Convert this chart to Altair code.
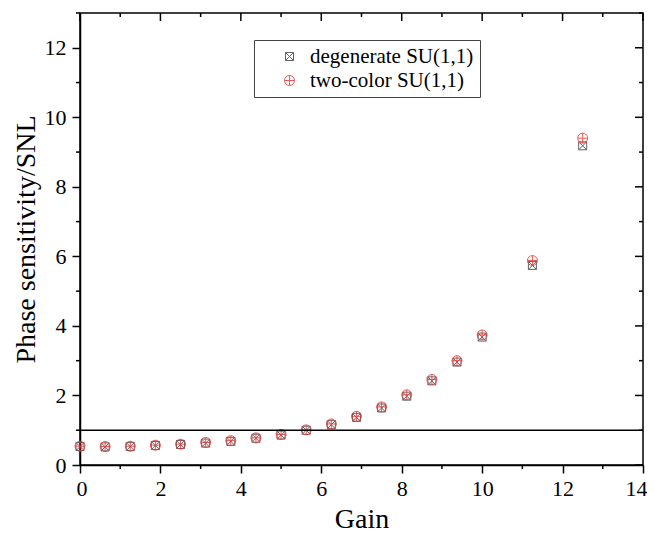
import altair as alt
import pandas as pd

# ---- data ----
gain = [0, 0.625, 1.25, 1.875, 2.5, 3.125, 3.75, 4.375, 5, 5.625, 6.25,
        6.875, 7.5, 8.125, 8.75, 9.375, 10, 11.25, 12.5]
degenerate = [0.53, 0.52, 0.53, 0.56, 0.59, 0.63, 0.68, 0.77, 0.86, 1.0, 1.16,
              1.37, 1.64, 1.98, 2.42, 2.96, 3.68, 5.74, 9.18]
two_color = [0.54, 0.53, 0.54, 0.57, 0.60, 0.65, 0.70, 0.78, 0.88, 1.01, 1.18,
             1.40, 1.67, 2.02, 2.46, 3.00, 3.74, 5.88, 9.40]
series_names = ["degenerate SU(1,1)", "two-color SU(1,1)"]
ref_level = [1]

x_major = [0, 2, 4, 6, 8, 10, 12, 14]
x_minor = [1, 3, 5, 7, 9, 11, 13]
y_major = [0, 2, 4, 6, 8, 10, 12]
y_minor = [1, 3, 5, 7, 9, 11, 13]

W, H = 563, 452
FONT = "Liberation Serif"

df = pd.concat([
    pd.DataFrame({"gain": gain, "val": degenerate, "series": series_names[0]}),
    pd.DataFrame({"gain": gain, "val": two_color, "series": series_names[1]}),
], ignore_index=True)

xs = alt.Scale(domain=[0, 14], nice=False, zero=False)
ys = alt.Scale(domain=[0, 13], nice=False, zero=False)

x_axis = alt.Axis(values=x_major, tickSize=8, tickWidth=1.5, domainWidth=1.5,
                  domainColor="black", tickColor="black", grid=False,
                  labelFont=FONT, labelFontSize=22, labelColor="black",
                  labelFlush=True, labelFlushOffset=4, labelPadding=5,
                  titleFont=FONT, titleFontSize=28,
                  titleFontWeight="normal", titleColor="black", titlePadding=6)
y_axis = alt.Axis(values=y_major, tickSize=8, tickWidth=1.5, domainWidth=1.5,
                  domainColor="black", tickColor="black", grid=False,
                  labelFont=FONT, labelFontSize=22, labelColor="black",
                  labelFlush=False, labelPadding=6, titleFont=FONT, titleFontSize=28,
                  titleFontWeight="normal", titleColor="black", titlePadding=4)
X_TITLE = "Gain"
Y_TITLE = "Phase sensitivity/SNL"

square_x = "M-1,-1L1,-1L1,1L-1,1Z M-1,-1L1,1 M1,-1L-1,1"
circle_plus = "M-1,0A1,1 0 1,1 1,0A1,1 0 1,1 -1,0Z M-1,0L1,0 M0,-1L0,1"

points = alt.Chart(df).mark_point(filled=False, strokeWidth=1, opacity=0.85).encode(
    x=alt.X("gain:Q", scale=xs, title=X_TITLE, axis=x_axis),
    y=alt.Y("val:Q", scale=ys, title=Y_TITLE, axis=y_axis),
    color=alt.Color("series:N", scale=alt.Scale(domain=series_names, range=["#4a4a4a", "#e83a3a"]),
                    legend=alt.Legend(title=None, orient="none", legendX=174, legendY=27,
                                      padding=6, strokeColor="#444", fillColor="white",
                                      labelFont=FONT, labelFontSize=21, labelColor="black",
                                      labelLimit=400,
                                      symbolSize=72, symbolStrokeWidth=1,
                                      symbolOffset=19, labelOffset=10, rowPadding=2)),
    shape=alt.Shape("series:N", scale=alt.Scale(domain=series_names, range=[square_x, circle_plus])),
    size=alt.Size("series:N", scale=alt.Scale(domain=series_names, range=[64, 100]), legend=None),
)

def tick_df(vals):
    return pd.DataFrame({"v": vals})

def xenc():
    return alt.X("v:Q", scale=xs, title=X_TITLE, axis=x_axis)

def yenc():
    return alt.Y("v:Q", scale=ys, title=Y_TITLE, axis=y_axis)

ref = alt.Chart(tick_df(ref_level)).mark_rule(color="black", strokeWidth=1.5).encode(y=yenc())

top_major = alt.Chart(tick_df(x_major)).mark_rule(color="black", strokeWidth=1.5).encode(
    x=xenc(), y=alt.value(0), y2=alt.value(8))
top_minor = alt.Chart(tick_df(x_minor)).mark_rule(color="black", strokeWidth=1.5).encode(
    x=xenc(), y=alt.value(0), y2=alt.value(4))
bot_minor = alt.Chart(tick_df(x_minor)).mark_rule(color="black", strokeWidth=1.5).encode(
    x=xenc(), y=alt.value(H), y2=alt.value(H + 4))
right_major = alt.Chart(tick_df(y_major)).mark_rule(color="black", strokeWidth=1.5).encode(
    y=yenc(), x=alt.value(W - 8), x2=alt.value(W))
right_minor = alt.Chart(tick_df(y_minor)).mark_rule(color="black", strokeWidth=1.5).encode(
    y=yenc(), x=alt.value(W - 4), x2=alt.value(W))
left_minor = alt.Chart(tick_df(y_minor)).mark_rule(color="black", strokeWidth=1.5).encode(
    y=yenc(), x=alt.value(-4), x2=alt.value(0))

chart = alt.layer(
    points, ref, top_major, top_minor, bot_minor, right_major, right_minor, left_minor
).properties(
    width=W, height=H,
    autosize=alt.AutoSizeParams(type="none"),
    padding={"left": 72, "top": 5, "right": 4, "bottom": 75},
    background="white",
).configure_view(stroke="black", strokeWidth=1.5)

chart.save("out.html", embed_options={"renderer": "svg", "actions": False})
